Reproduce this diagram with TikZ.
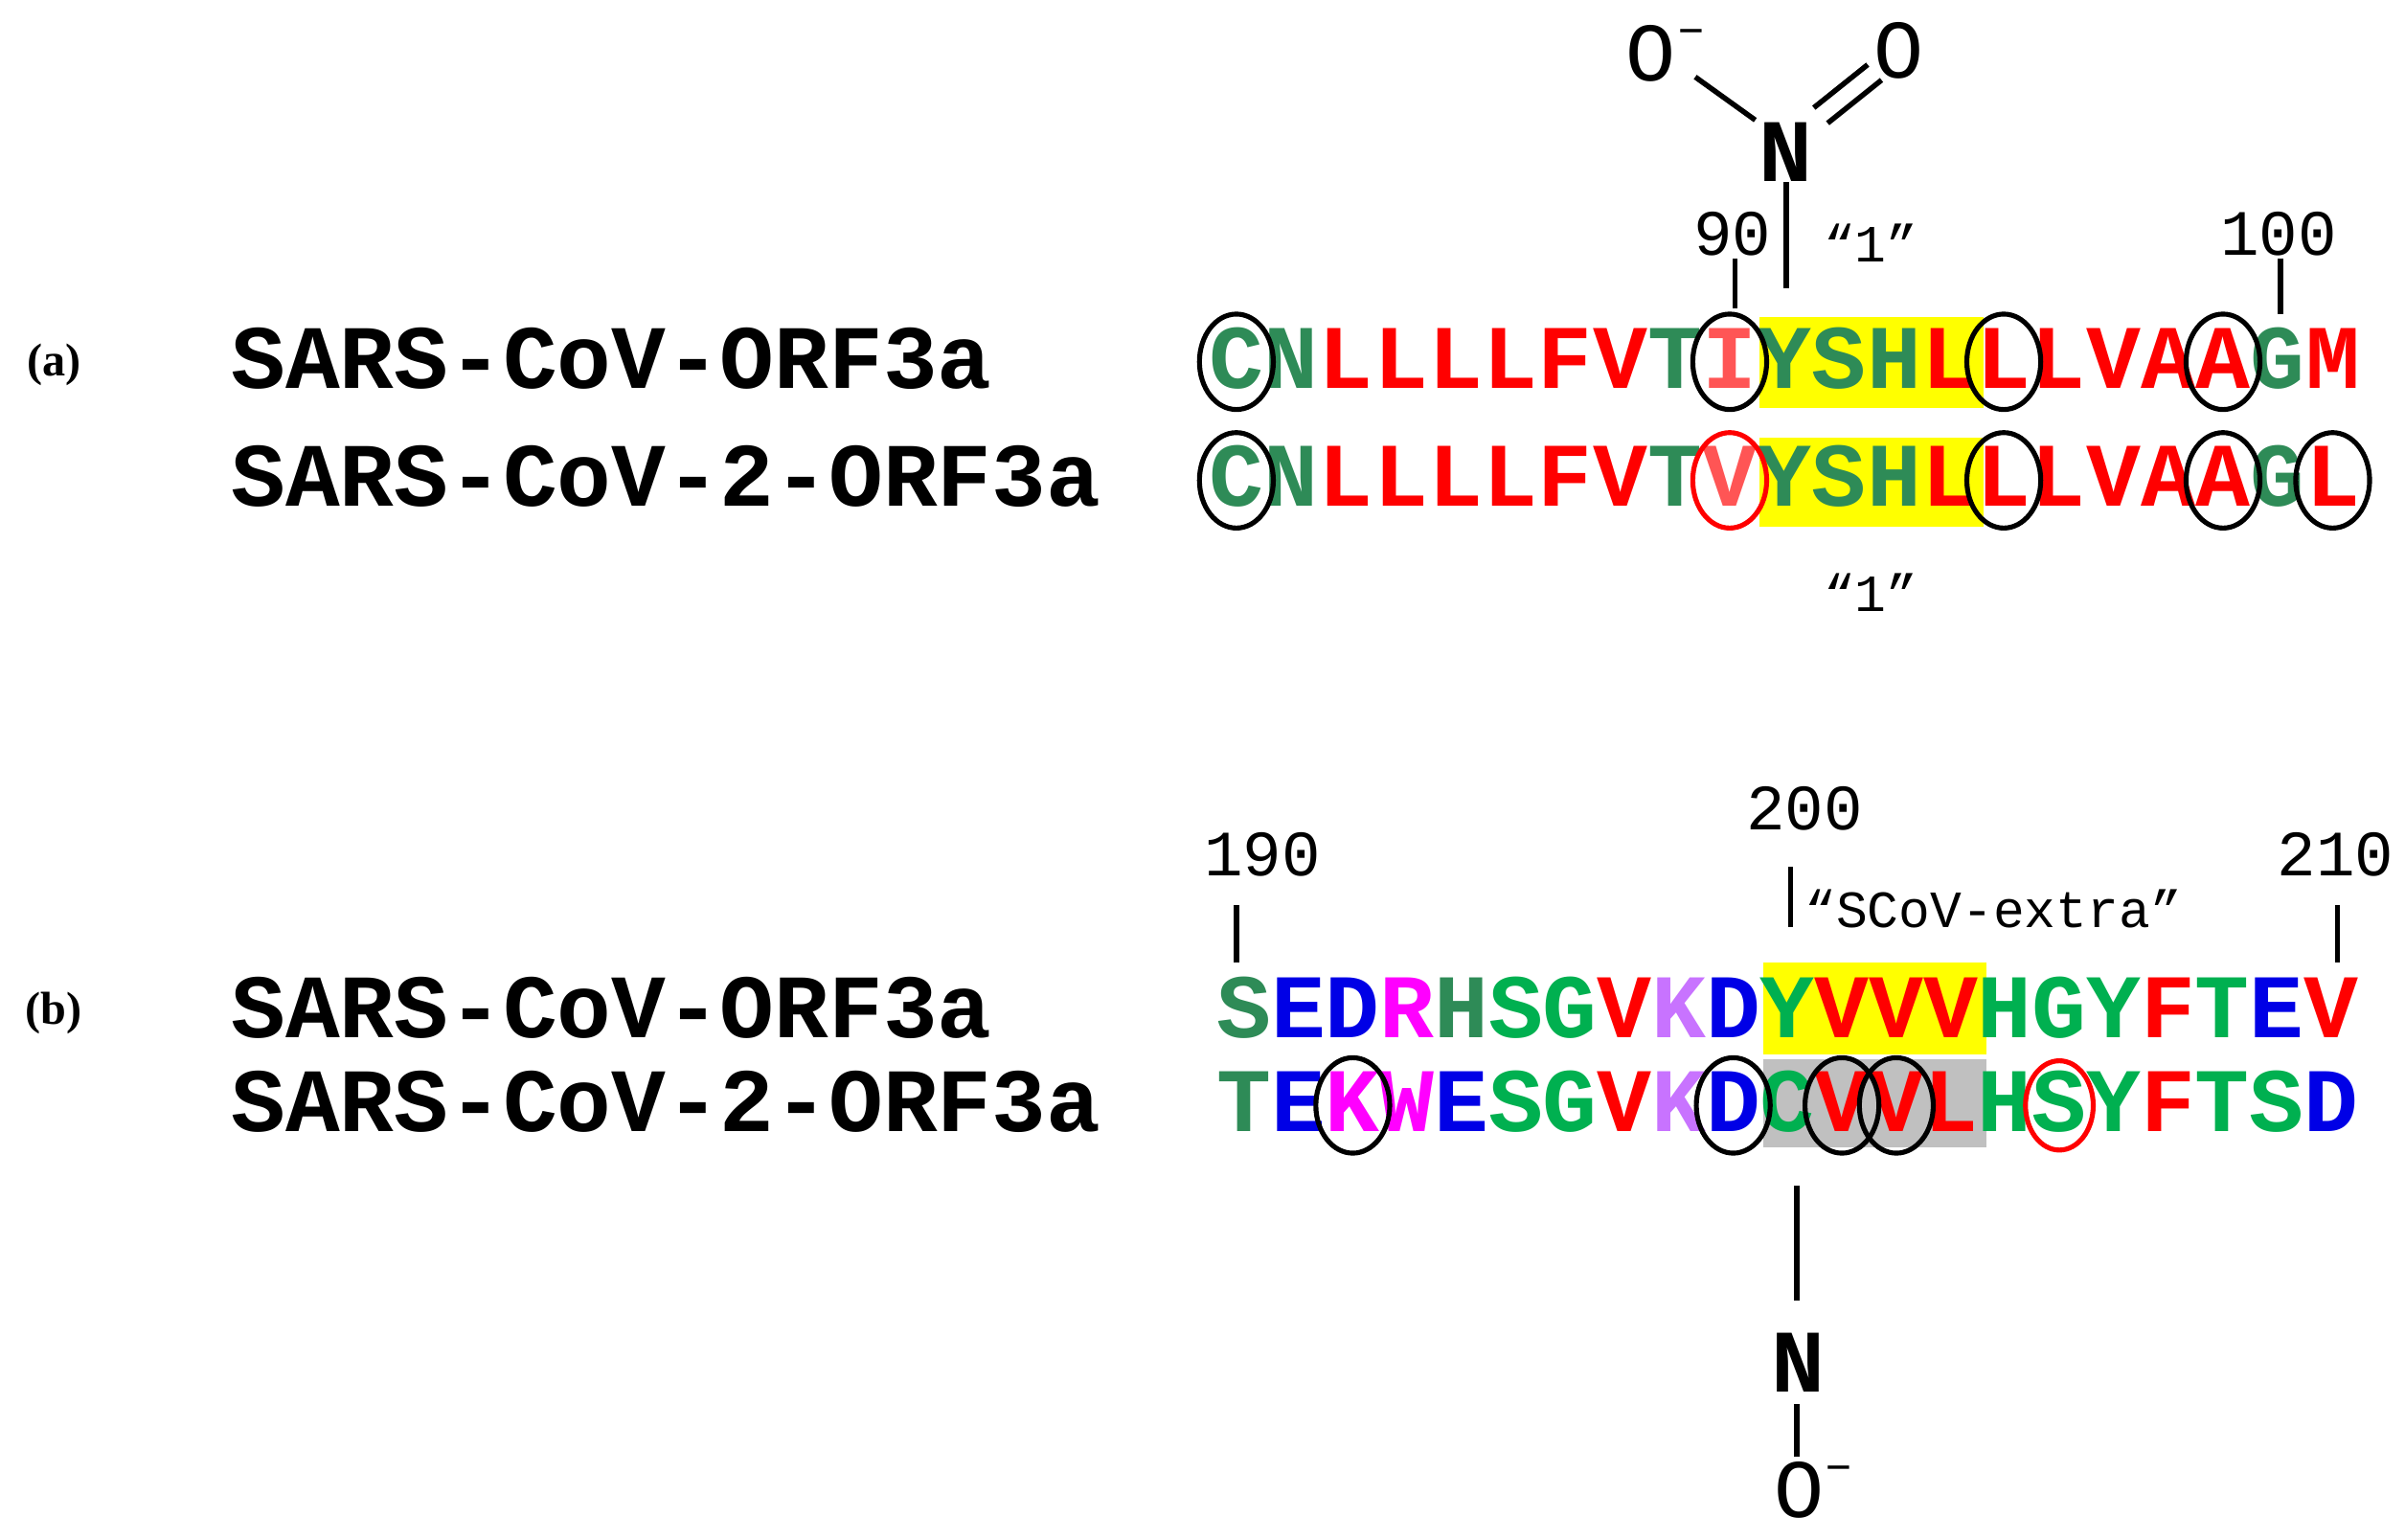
\documentclass[tikz,border=0pt]{standalone}
\usepackage{fontspec}
\setmainfont{Liberation Serif}
\newfontfamily\mono{Liberation Mono}
\definecolor{sg}{RGB}{46,139,87}
\definecolor{gr}{RGB}{0,176,80}
\definecolor{rd}{RGB}{255,0,0}
\definecolor{lr}{RGB}{255,85,85}
\definecolor{bl}{RGB}{0,0,230}
\definecolor{mg}{RGB}{255,0,255}
\definecolor{pu}{RGB}{200,115,255}
\definecolor{yl}{RGB}{255,255,0}
\definecolor{gy}{RGB}{192,192,192}
\begin{document}
\begin{tikzpicture}[x=1pt,y=-1pt,
  seq/.style={font=\mono\bfseries\fontsize{59}{60}\selectfont,inner sep=0pt,text height=34pt,text depth=0pt,anchor=center},
  seqname/.style={font=\mono\bfseries\fontsize{58.8}{60}\selectfont,inner sep=0pt,text height=34pt,text depth=0pt,anchor=west},
  posnum/.style={font=\mono\fontsize{42}{42}\selectfont,inner sep=0pt},
  qt/.style={font=\mono\fontsize{34}{34}\selectfont,inner sep=0pt},
  panellab/.style={font=\bfseries\fontsize{30}{30}\selectfont,inner sep=0pt},
  atomN/.style={font=\mono\bfseries\fontsize{58}{58}\selectfont,inner sep=0pt},
  atomO/.style={font=\mono\fontsize{54}{54}\selectfont,inner sep=0pt},
  circ/.style={line width=3.2pt},
  bond/.style={line width=3.4pt}]
\useasboundingbox (0,0) rectangle (1562,1000);
% highlight boxes
\fill[yl] (1143,206) rectangle (1288,265);
\fill[yl] (1143,284) rectangle (1288,342);
\fill[yl] (1145,625) rectangle (1290,685);
\fill[gy] (1145,688) rectangle (1290,745);
% labels
\node[panellab] (la) at (35,237) {(a)};
\node[panellab] (lb) at (35,658) {(b)};
\node[seqname] (n1) at (150,235) {SARS-CoV-ORF3a};
\node[seqname] (n2) at (150,312) {SARS-CoV-2-ORF3a};
\node[seqname] (n3) at (150,657) {SARS-CoV-ORF3a};
\node[seqname] (n4) at (150,718) {SARS-CoV-2-ORF3a};
% sequences
\foreach \c/\l [count=\i from 0] in {sg/C,sg/N,rd/L,rd/L,rd/L,rd/L,rd/F,rd/V,sg/T,lr/I,sg/Y,sg/S,sg/H,rd/L,rd/L,rd/L,rd/V,rd/A,rd/A,sg/G,rd/M}
  \node[seq,text=\c] (a1-\i) at ({803+\i*35.6},235) {\l};
\foreach \c/\l [count=\i from 0] in {sg/C,sg/N,rd/L,rd/L,rd/L,rd/L,rd/F,rd/V,sg/T,lr/V,sg/Y,sg/S,sg/H,rd/L,rd/L,rd/L,rd/V,rd/A,rd/A,sg/G,rd/L}
  \node[seq,text=\c] (a2-\i) at ({803+\i*35.6},312) {\l};
\foreach \c/\l [count=\i from 0] in {sg/S,bl/E,bl/D,mg/R,sg/H,gr/S,gr/G,rd/V,pu/K,bl/D,gr/Y,rd/V,rd/V,rd/V,gr/H,gr/G,gr/Y,rd/F,gr/T,bl/E,rd/V}
  \node[seq,text=\c] (b1-\i) at ({808+\i*35.3},657) {\l};
\foreach \c/\l [count=\i from 0] in {sg/T,bl/E,mg/K,mg/W,bl/E,gr/S,gr/G,rd/V,pu/K,bl/D,gr/C,rd/V,rd/V,rd/L,gr/H,gr/S,gr/Y,rd/F,gr/T,gr/S,bl/D}
  \node[seq,text=\c] (b2-\i) at ({808+\i*35.3},718) {\l};
% circles
\foreach \n in {a1-0,a1-9,a1-14,a1-18,a2-0,a2-14,a2-18,a2-20,b2-2,b2-9,b2-11,b2-12}
  \draw[circ] (\n.center) ellipse (24 and 31);
\draw[circ,rd] (a2-9.center) ellipse (24 and 31);
\draw[circ,rd] (b2-15.center) ellipse (22 and 29);
% position numbers and ticks
\node[posnum] (p90) at (1125,152) {90};
\node[posnum] (p100) at (1480,152) {100};
\node[posnum] (p190) at (820,555) {190};
\node[posnum] (p200) at (1172,525) {200};
\node[posnum] (p210) at (1517,555) {210};
\coordinate (t90) at (1127,168); \coordinate (t90e) at (1127,200);
\coordinate (t100) at (1481,168); \coordinate (t100e) at (1481,204);
\coordinate (t190) at (803,588); \coordinate (t190e) at (803,625);
\coordinate (t200) at (1163,563); \coordinate (t200e) at (1163,602);
\coordinate (t210) at (1518,588); \coordinate (t210e) at (1518,625);
\draw[bond] (t90) -- (t90e);
\draw[bond] (t100) -- (t100e);
\draw[bond] (t190) -- (t190e);
\draw[bond] (t200) -- (t200e);
\draw[bond] (t210) -- (t210e);
\node[qt] (q1) at (1215,158) {“1”};
\node[qt] (q2) at (1215,385) {“1”};
\node[qt,anchor=west] (q3) at (1172,590) {“SCoV-extra”};
% nitro group (a)
\node[atomN] (N1) at (1160,99) {N};
\node[atomO] (O1) at (1082,35) {O\raisebox{0.45em}{\fontsize{32}{32}\selectfont –}};
\node[atomO] (O2) at (1233,33) {O};
\coordinate (nb) at (1160,187);
\draw[bond] (N1.south) -- (nb);
\draw[bond] (1101,50) -- (1140,78);
\draw[bond] (1178,70) -- (1213,42);
\draw[bond] (1187,80) -- (1222,52);
% NO (b)
\node[atomN] (N2) at (1168,885) {N};
\node[atomO] (O3) at (1178,968) {O\raisebox{0.45em}{\fontsize{32}{32}\selectfont –}};
\coordinate (nt) at (1167,770);
\draw[bond] (nt) -- (1167,845);
\draw[bond] (1167,912) -- (1167,946);
\end{tikzpicture}
\end{document}
